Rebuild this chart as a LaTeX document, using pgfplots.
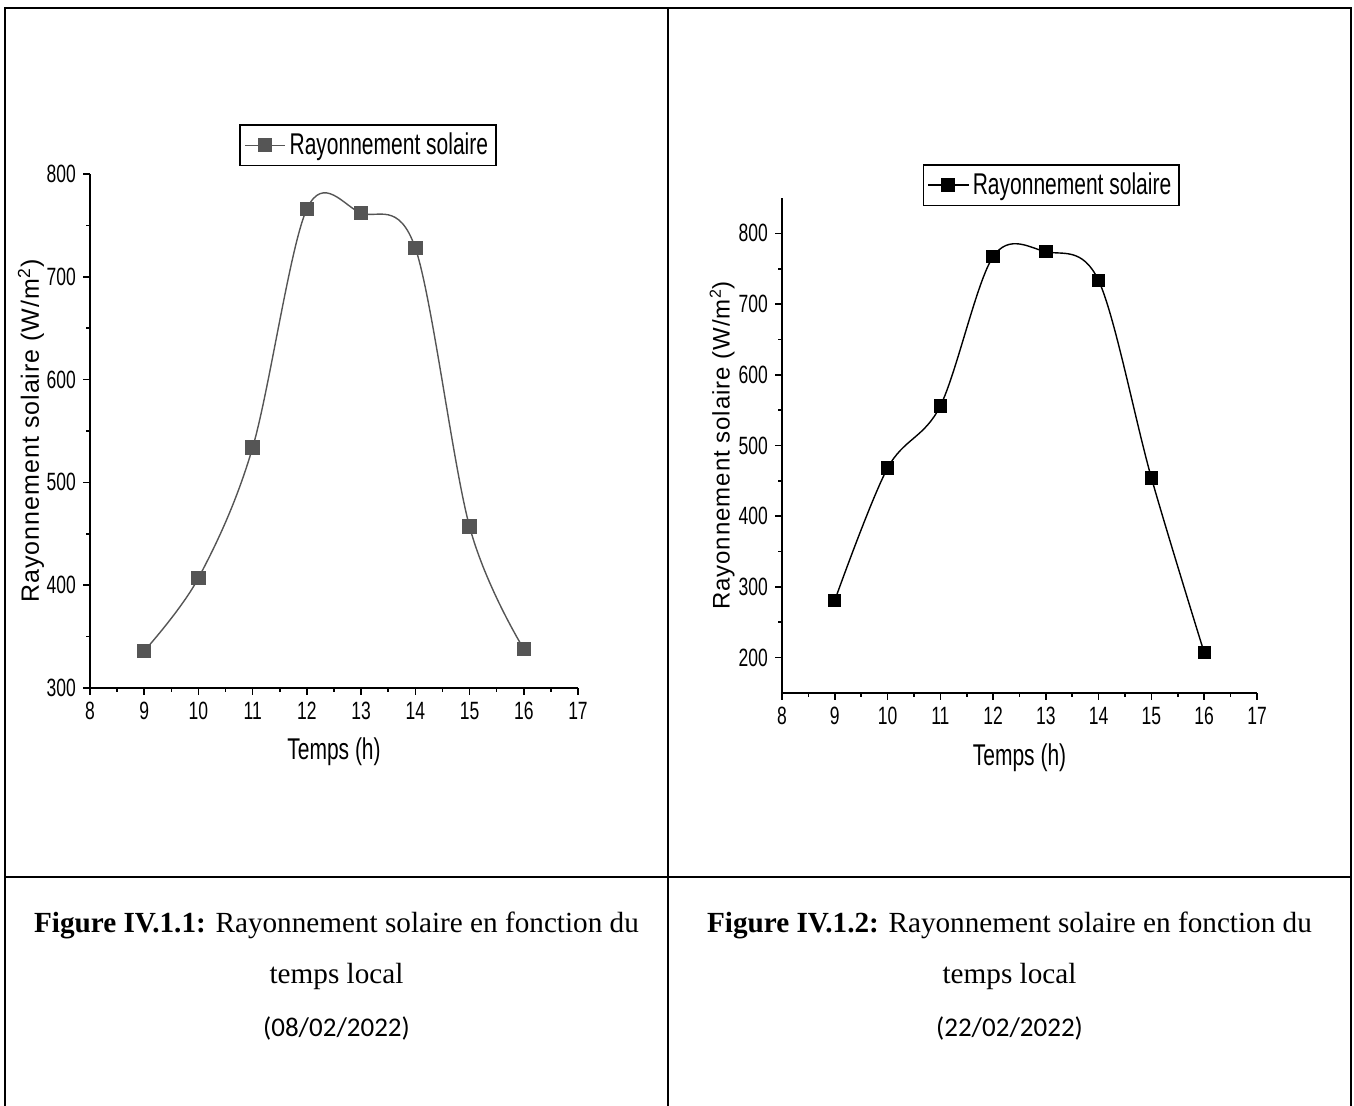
\documentclass[border=0pt]{standalone}
\usepackage{fontspec}
\usepackage{pgfplots}
\pgfplotsset{compat=1.18}
\setmainfont{Liberation Serif}
\newfontfamily\arialfont[LetterSpace=4]{Liberation Sans}
\newfontfamily\narrowfont[FakeStretch=0.7]{Liberation Sans}
\newfontfamily\calibrifont{Carlito}

\definecolor{curvegray}{RGB}{85,85,85}

\pgfplotsset{
  originstyle/.style={
    scale only axis,
    axis lines=left,
    axis line style={line width=1pt,-},
    x axis line style={-},
    y axis line style={-},
    tick align=outside,
    major tick length=3.5pt,
    minor tick length=2pt,
    every tick/.style={black,line width=0.8pt},
    xmin=8, xmax=17, xtick={8,...,17},
    minor x tick num=1,
    minor y tick num=1,
    tick label style={font=\narrowfont\fontsize{12.5}{12.5}\selectfont},
    /pgf/number format/assume math mode=true,
    xlabel style={font=\narrowfont\fontsize{15}{15}\selectfont,anchor=center},
    ylabel style={font=\arialfont\fontsize{12.5}{12.5}\selectfont,anchor=center},
    legend style={draw=black,line width=0.9pt,
      font=\narrowfont\fontsize{15}{15}\selectfont,
      anchor=center,inner xsep=2pt,inner ysep=2pt},
    legend image code/.code={%
      \draw[mark repeat=2,mark phase=2,##1]
        plot coordinates {(0pt,0pt) (10pt,0pt) (20pt,0pt)};},
    clip=false,
  }
}

\begin{document}
\begin{tikzpicture}
\useasboundingbox (0,0) rectangle (677pt,553pt);

% table frame
\draw[line width=1pt] (2.5pt,0pt) -- (2.5pt,549pt) -- (675.5pt,549pt) -- (675.5pt,0pt);
\draw[line width=1pt] (334pt,0pt) -- (334pt,549pt);
\draw[line width=1pt] (2.5pt,114.5pt) -- (675.5pt,114.5pt);

% left chart
\begin{axis}[originstyle,
  at={(45pt,209pt)}, anchor=south west,
  width=244pt, height=257pt,
  ymin=300, ymax=800, ytick={300,400,...,800},
  xlabel={Temps (h)},
  ylabel={Rayonnement solaire (W/m\textsuperscript{2})},
  xlabel style={at={(axis description cs:0.5,-0.1245)}},
  ylabel style={at={(axis description cs:-0.121,0.5)}},
  legend style={at={(0.57,1.056)}},
]
\addplot[color=curvegray, line width=0.7pt, smooth, tension=0.55,
  mark=square*, mark size=3.25pt, mark options={fill=curvegray,draw=curvegray}]
  coordinates {(9,336) (10,407) (11,534) (12,766) (13,762) (14,728) (15,457) (16,338)};
\addlegendentry{Rayonnement solaire}
\end{axis}

% right chart
\begin{axis}[originstyle,
  at={(391pt,206.5pt)}, anchor=south west,
  width=237.5pt, height=247.5pt,
  ymin=150, ymax=850, ytick={200,300,...,800},
  xlabel={Temps (h)},
  ylabel={Rayonnement solaire (W/m\textsuperscript{2})},
  ylabel style={font=\arialfont\fontsize{12}{12}\selectfont},
  xlabel style={at={(axis description cs:0.5,-0.1313)}},
  ylabel style={at={(axis description cs:-0.126,0.5)}},
  legend style={at={(0.567,1.026)}},
]
\addplot[color=black, line width=0.7pt, smooth, tension=0.55,
  mark=square*, mark size=3pt, mark options={fill=black,draw=black}]
  coordinates {(9,281) (10,468) (11,556) (12,767) (13,774) (14,733) (15,454) (16,207)};
\addlegendentry{Rayonnement solaire}
\end{axis}

% captions
\node[font=\fontsize{14.6}{17}\selectfont] at (168.25pt,90.5pt)
  {\textbf{Figure IV.1.1:} Rayonnement solaire en fonction du};
\node[font=\fontsize{14.6}{17}\selectfont] at (168.25pt,65pt) {temps local};
\node[font=\calibrifont\fontsize{13.5}{16}\selectfont] at (168.25pt,38.5pt) {(08/02/2022)};

\node[font=\fontsize{14.6}{17}\selectfont] at (504.75pt,90.5pt)
  {\textbf{Figure IV.1.2:} Rayonnement solaire en fonction du};
\node[font=\fontsize{14.6}{17}\selectfont] at (504.75pt,65pt) {temps local};
\node[font=\calibrifont\fontsize{13.5}{16}\selectfont] at (504.75pt,38.5pt) {(22/02/2022)};
\end{tikzpicture}
\end{document}
